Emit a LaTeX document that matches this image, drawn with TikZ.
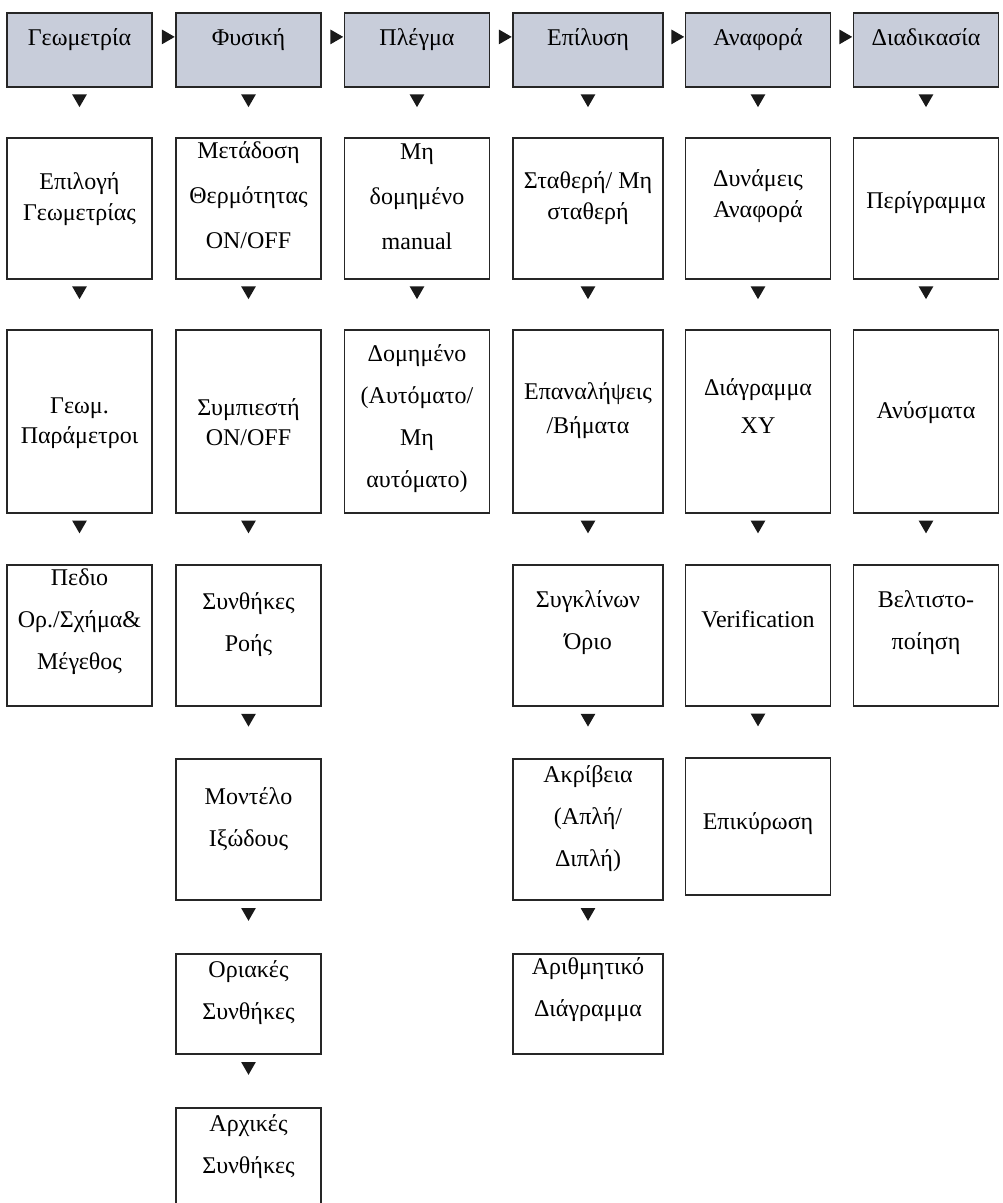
\documentclass[tikz,border=0pt]{standalone}
\usepackage{fontspec}
\setmainfont{Liberation Serif}
\usetikzlibrary{positioning, shapes.geometric}
\definecolor{headfill}{RGB}{200,205,218}
\newcommand\tstrut{\rule{0pt}{18pt}}

\begin{document}
\begin{tikzpicture}[x=1pt, y=1pt,
  box/.style={draw=black!85, line width=1.8pt, minimum width=145pt, inner sep=0pt, anchor=north},
  head/.style={box, fill=headfill, minimum height=74pt, font=\fontsize{24}{30}\selectfont, text height=18pt, text depth=26pt},
  txt/.style={inner sep=0pt, align=center, font=\fontsize{24}{42}\selectfont, execute at begin node=\tstrut},
  single/.style={txt, font=\fontsize{24}{31}\selectfont},
  wide/.style={txt, font=\fontsize{24}{45}\selectfont},
  dtri/.style={regular polygon, regular polygon sides=3, shape border rotate=180, fill=black!90, minimum size=17pt, inner sep=0pt},
  rtri/.style={dtri, shape border rotate=-90}]
\path[use as bounding box, clip] (0,0) rectangle (1003,-1203);

% header row
\node[head] (geo0) at (79.5,-12) {Γεωμετρία};
\node[head] (phy0) at (248.5,-12) {Φυσική};
\node[head] (mesh0) at (417,-12) {Πλέγμα};
\node[head, minimum width=150pt] (sol0) at (588,-12) {Επίλυση};
\node[head] (rep0) at (758,-12) {Αναφορά};
\node[head] (proc0) at (926,-12) {Διαδικασία};

% second row
\node[box, minimum height=141pt] (geo1) at (79.5,-137) {};
\node[single, below=35pt of geo1.north] (geo1t) {Επιλογή\\Γεωμετρίας};
\node[box, minimum height=141pt] (phy1) at (248.5,-137) {};
\node[wide, below=4pt of phy1.north] (phy1t) {Μετάδοση\\Θερμότητας\\ON/OFF};
\node[box, minimum height=141pt] (mesh1) at (417,-137) {};
\node[wide, below=7pt of mesh1.north] (mesh1t) {Μη\\δομημένο\\manual};
\node[box, minimum height=141pt, minimum width=150pt] (sol1) at (588,-137) {};
\node[single, below=34pt of sol1.north] (sol1t) {Σταθερή/ Μη\\σταθερή};
\node[box, minimum height=141pt] (rep1) at (758,-137) {};
\node[single, below=32pt of rep1.north] (rep1t) {Δυνάμεις\\Αναφορά};
\node[box, minimum height=141pt] (proc1) at (926,-137) {};
\node[txt, below=53pt of proc1.north] (proc1t) {Περίγραμμα};

% third row
\node[box, minimum height=183pt] (geo2) at (79.5,-329) {};
\node[single, font=\fontsize{24}{30}\selectfont, below=69pt of geo2.north] (geo2t) {Γεωμ.\\Παράμετροι};
\node[box, minimum height=183pt] (phy2) at (248.5,-329) {};
\node[single, font=\fontsize{24}{30}\selectfont, below=69pt of phy2.north] (phy2t) {Συμπιεστή\\ON/OFF};
\node[box, minimum height=183pt] (mesh2) at (417,-329) {};
\node[txt, below=15pt of mesh2.north] (mesh2t) {Δομημένο\\(Αυτόματο/\\Μη\\αυτόματο)};
\node[box, minimum height=183pt, minimum width=150pt] (sol2) at (588,-329) {};
\node[txt, font=\fontsize{24}{34}\selectfont, below=53pt of sol2.north] (sol2t) {Επαναλήψεις\\/Βήματα};
\node[box, minimum height=183pt] (rep2) at (758,-329) {};
\node[txt, font=\fontsize{24}{38}\selectfont, below=49pt of rep2.north] (rep2t) {Διάγραμμα\\XY};
\node[box, minimum height=183pt] (proc2) at (926,-329) {};
\node[txt, below=71pt of proc2.north] (proc2t) {Ανύσματα};

% fourth row
\node[box, minimum height=141pt] (geo3) at (79.5,-564) {};
\node[txt, below=5pt of geo3.north] (geo3t) {Πεδιο\\Ορ./Σχήμα\&\\Μέγεθος};
\node[box, minimum height=141pt] (phy3) at (248.5,-564) {};
\node[txt, below=28pt of phy3.north] (phy3t) {Συνθήκες\\Ροής};
\node[box, minimum height=141pt, minimum width=150pt] (sol3) at (588,-564) {};
\node[txt, below=26pt of sol3.north] (sol3t) {Συγκλίνων\\Όριο};
\node[box, minimum height=141pt] (rep3) at (758,-564) {};
\node[txt, below=45pt of rep3.north] (rep3t) {Verification};
\node[box, minimum height=141pt] (proc3) at (926,-564) {};
\node[txt, below=26pt of proc3.north] (proc3t) {Βελτιστο-\\ποίηση};

% fifth row
\node[box, minimum height=141pt] (phy4) at (248.5,-758) {};
\node[txt, below=29pt of phy4.north] (phy4t) {Μοντέλο\\Ιξώδους};
\node[box, minimum height=141pt, minimum width=150pt] (sol4) at (588,-758) {};
\node[txt, below=7pt of sol4.north] (sol4t) {Ακρίβεια\\(Απλή/\\Διπλή)};
\node[box, minimum height=137pt] (rep4) at (758,-757) {};
\node[txt, below=54pt of rep4.north] (rep4t) {Επικύρωση};

% sixth and seventh row
\node[box, minimum height=100pt] (phy5) at (248.5,-953) {};
\node[txt, below=7pt of phy5.north] (phy5t) {Οριακές\\Συνθήκες};
\node[box, minimum height=100pt, minimum width=150pt] (sol5) at (588,-953) {};
\node[txt, below=4pt of sol5.north] (sol5t) {Αριθμητικό\\Διάγραμμα};
\node[box, minimum height=120pt] (phy6) at (248.5,-1107) {};
\node[txt, below=7pt of phy6.north] (phy6t) {Αρχικές\\Συνθήκες};

% arrows
\foreach \a/\b in {geo/phy, phy/mesh, mesh/sol, sol/rep, rep/proc}
  \path ([yshift=13pt]\a0.east) -- ([yshift=13pt]\b0.west) node[rtri, pos=1, anchor=corner 1] (to-\b) {};
\foreach \col/\last in {geo/3, phy/6, mesh/2, sol/5, rep/4, proc/3}
  \foreach \i in {1,...,\last}{
    \pgfmathtruncatemacro\prev{\i-1}
    \path (\col\prev.south) -- (\col\i.north) node[dtri, pos=.22] (down-\col\i) {};
  }
\end{tikzpicture}
\end{document}
